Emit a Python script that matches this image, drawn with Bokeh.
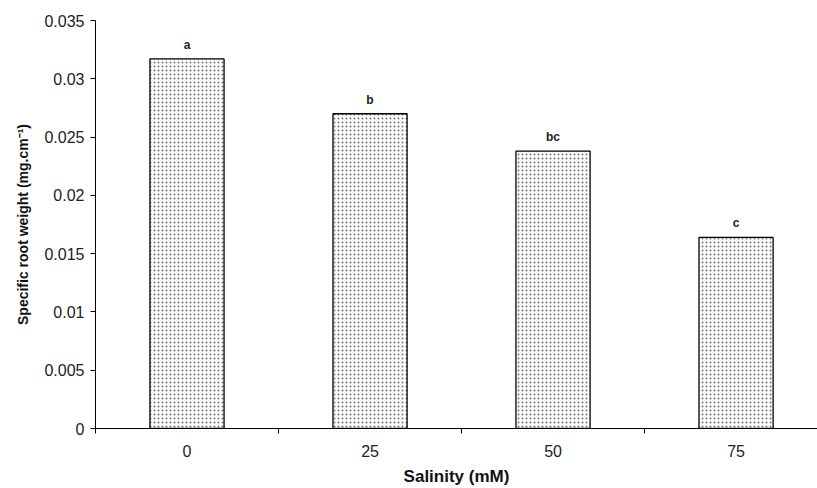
from bokeh.plotting import figure
from bokeh.models import ColumnDataSource, FixedTicker, LabelSet
from bokeh.core.properties import value
from bokeh.embed import file_html
from bokeh.resources import INLINE

categories = ["0", "25", "50", "75"]
values = [0.0317, 0.0270, 0.0238, 0.0164]
letters = ["a", "b", "bc", "c"]
y_ticks = [0, 0.005, 0.01, 0.015, 0.02, 0.025, 0.03, 0.035]
y_tick_labels = ["0", "0.005", "0.01", "0.015", "0.02", "0.025", "0.03", "0.035"]

xpos = [i + 0.5 for i in range(len(categories))]
src = ColumnDataSource(dict(x=xpos, top=values, lab=letters))

p = figure(width=817, height=488, output_backend="svg", toolbar_location=None,
           x_range=(0, 3.945), y_range=(0, 0.035),
           min_border_left=95, min_border_top=20, min_border_bottom=60, min_border_right=0)
p.outline_line_color = None
p.xgrid.visible = False
p.ygrid.visible = False

p.vbar(x="x", top="top", width=0.405, source=src, fill_color="white",
       line_color="black", line_width=1.3,
       hatch_pattern="dot", hatch_color="black", hatch_scale=4, hatch_weight=1,
       hatch_alpha=0.55)

labels = LabelSet(x="x", y="top", text="lab", source=src, text_align="center",
                  text_baseline="bottom", y_offset=7, text_font=value("Liberation Sans"),
                  text_font_style="bold", text_font_size="12px", text_color="#222222")
p.add_layout(labels)

# x axis
p.xaxis.ticker = FixedTicker(ticks=xpos, minor_ticks=[0, 1, 2, 3])
p.xaxis.major_label_overrides = {x: c for x, c in zip(xpos, categories)}
p.xaxis.major_tick_out = 0
p.xaxis.major_tick_in = 0
p.xaxis.minor_tick_out = 5
p.xaxis.minor_tick_in = 0
p.xaxis.minor_tick_line_color = "black"
p.xaxis.axis_line_color = "black"
p.xaxis.major_label_standoff = 11
p.xaxis.major_label_text_font = "Liberation Sans"
p.xaxis.major_label_text_font_size = "16px"
p.xaxis.major_label_text_color = "#222222"
p.xaxis.axis_label = "Salinity (mM)"
p.xaxis.axis_label_text_font = "Liberation Sans"
p.xaxis.axis_label_text_font_style = "bold"
p.xaxis.axis_label_text_font_size = "17px"
p.xaxis.axis_label_text_color = "#111111"
p.xaxis.axis_label_standoff = 7

# y axis
p.yaxis.ticker = FixedTicker(ticks=y_ticks)
p.yaxis.major_label_overrides = {t: l for t, l in zip(y_ticks, y_tick_labels)}
p.yaxis.major_tick_out = 5
p.yaxis.major_tick_in = 0
p.yaxis.minor_tick_line_color = None
p.yaxis.axis_line_color = "black"
p.yaxis.major_tick_line_color = "black"
p.yaxis.major_label_standoff = 6
p.yaxis.major_label_text_font = "Liberation Sans"
p.yaxis.major_label_text_font_size = "16px"
p.yaxis.major_label_text_color = "#222222"
p.yaxis.axis_label = "Specific root weight (mg.cm\u207b\u00b9)"
p.yaxis.axis_label_text_font = "Liberation Sans"
p.yaxis.axis_label_text_font_style = "bold"
p.yaxis.axis_label_text_font_size = "14px"
p.yaxis.axis_label_text_color = "#111111"
p.yaxis.axis_label_standoff = 10

open("out.html", "w").write(file_html(p, INLINE))
